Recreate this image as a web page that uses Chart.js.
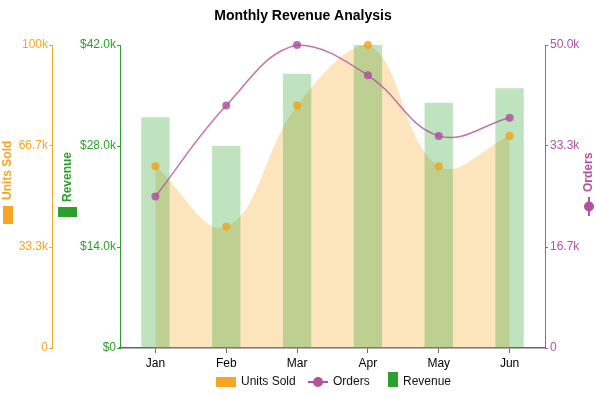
<!DOCTYPE html>
<html>
<head>
<meta charset="utf-8">
<title>Monthly Revenue Analysis</title>
<script src="https://cdn.jsdelivr.net/npm/chart.js@4.4.1/dist/chart.umd.min.js"></script>
<style>
  html, body { margin: 0; padding: 0; background: #fff; }
  #wrap { width: 596px; height: 398px; }
</style>
</head>
<body>
<div id="wrap"><canvas id="chart" width="596" height="398"></canvas></div>
<script>
const months = ["Jan", "Feb", "Mar", "Apr", "May", "Jun"];
const unitsSold = [60000, 40000, 80000, 100000, 60000, 70000];
const orders = [25000, 40000, 50000, 45000, 35000, 38000];
const revenue = [32000, 28000, 38000, 42000, 34000, 36000];

const unitsTicks = [0, 100000 / 3, 200000 / 3, 100000];
const revenueTicks = [0, 14000, 28000, 42000];
const ordersTicks = [0, 50000 / 3, 100000 / 3, 50000];

const ORANGE = "#f5a623";
const GREEN = "#2ca02c";
const PURPLE = "#b0529f";
const FONT = "'Liberation Sans', Arial, sans-serif";

const fmtUnits = (v) => (v === 0 ? "0" : v >= 100000 ? Math.round(v / 1000) + "k" : (v / 1000).toFixed(1) + "k");
const fmtRevenue = (v) => (v === 0 ? "$0" : "$" + (v / 1000).toFixed(1) + "k");
const fmtOrders = (v) => (v === 0 ? "0" : (v / 1000).toFixed(1) + "k");

function setTicks(list) {
  return (scale) => {
    scale.ticks = list.map((v) => ({ value: v }));
  };
}

// vertical axis title drawn bottom-to-top with a little legend marker first
function drawSideTitle(ctx, cx, bottomY, text, color, marker) {
  ctx.save();
  ctx.translate(cx, bottomY);
  ctx.rotate(-Math.PI / 2);
  ctx.fillStyle = color;
  ctx.strokeStyle = color;
  let start;
  if (marker === "wide") {
    ctx.fillRect(0, -5, 18, 10);
    start = 24;
  } else if (marker === "tall") {
    ctx.fillRect(0, -9.5, 10, 19);
    start = 15;
  } else {
    ctx.lineWidth = 2;
    ctx.beginPath();
    ctx.moveTo(0, 0);
    ctx.lineTo(19, 0);
    ctx.stroke();
    ctx.beginPath();
    ctx.arc(9.5, 0, 5, 0, Math.PI * 2);
    ctx.fill();
    start = 24;
  }
  ctx.font = "bold 12px " + FONT;
  ctx.textBaseline = "middle";
  ctx.textAlign = "left";
  ctx.fillText(text, start, 0);
  ctx.restore();
}

const overlay = {
  id: "overlay",
  afterDraw(chart) {
    const ctx = chart.ctx;
    ctx.save();

    // title
    ctx.fillStyle = "#000";
    ctx.font = "bold 14px " + FONT;
    ctx.textAlign = "center";
    ctx.textBaseline = "middle";
    ctx.fillText("Monthly Revenue Analysis", 303, 16);

    // axis titles
    drawSideTitle(ctx, 8, 224, "Units Sold", ORANGE, "wide");
    drawSideTitle(ctx, 67.5, 217, "Revenue", GREEN, "tall");
    drawSideTitle(ctx, 589, 216, "Orders", PURPLE, "line");

    // legend
    ctx.font = "12px " + FONT;
    ctx.textAlign = "left";
    ctx.textBaseline = "middle";
    ctx.fillStyle = ORANGE;
    ctx.fillRect(216, 377, 20, 10);
    ctx.fillStyle = "#111";
    ctx.fillText("Units Sold", 241, 382);

    ctx.strokeStyle = PURPLE;
    ctx.fillStyle = PURPLE;
    ctx.lineWidth = 2;
    ctx.beginPath();
    ctx.moveTo(308, 382);
    ctx.lineTo(328, 382);
    ctx.stroke();
    ctx.beginPath();
    ctx.arc(318, 382, 5, 0, Math.PI * 2);
    ctx.fill();
    ctx.fillStyle = "#111";
    ctx.fillText("Orders", 333, 382);

    ctx.fillStyle = GREEN;
    ctx.fillRect(388, 372, 10, 15);
    ctx.fillStyle = "#111";
    ctx.fillText("Revenue", 403, 382);

    ctx.restore();
  },
};

new Chart(document.getElementById("chart"), {
  type: "bar",
  data: {
    labels: months,
    datasets: [
      {
        type: "line",
        label: "Units Sold",
        data: unitsSold,
        yAxisID: "yUnits",
        order: 1,
        fill: "origin",
        backgroundColor: "rgba(245,166,35,0.3)",
        borderColor: "transparent",
        borderWidth: 0,
        tension: 0.4,
        pointRadius: 4,
        pointBackgroundColor: "rgba(240,166,30,0.85)",
        pointBorderWidth: 0,
        clip: false,
      },
      {
        type: "line",
        label: "Orders",
        data: orders,
        yAxisID: "yOrders",
        order: 0,
        fill: false,
        borderColor: "rgba(176,82,159,0.8)",
        borderWidth: 1.5,
        tension: 0.4,
        pointRadius: 4,
        pointBackgroundColor: "rgba(176,82,159,0.85)",
        pointBorderWidth: 0,
        clip: false,
      },
      {
        type: "bar",
        label: "Revenue",
        data: revenue,
        yAxisID: "yRevenue",
        order: 2,
        backgroundColor: "rgba(44,160,44,0.3)",
        borderWidth: 0,
        barPercentage: 0.4,
        categoryPercentage: 1,
      },
    ],
  },
  options: {
    responsive: false,
    animation: false,
    devicePixelRatio: 1,
    layout: { padding: { top: 45, bottom: 28, left: 0, right: 0 } },
    plugins: {
      legend: { display: false },
      title: { display: false },
      tooltip: { enabled: false },
      filler: { drawTime: "beforeDatasetsDraw" },
    },
    scales: {
      x: {
        offset: true,
        grid: { offset: false, drawOnChartArea: false, tickLength: 5, color: "#666" },
        border: { color: "#666", width: 1.5 },
        ticks: { color: "#000", font: { size: 12, family: FONT }, padding: 3 },
        afterFit: (s) => { s.height = 22; },
      },
      yUnits: {
        position: "left",
        weight: 2,
        min: 0,
        max: 100000,
        afterBuildTicks: setTicks(unitsTicks),
        grid: { drawOnChartArea: false, tickLength: 3, color: ORANGE },
        border: { color: ORANGE, width: 1 },
        ticks: { color: ORANGE, font: { size: 12, family: FONT }, padding: 1, callback: fmtUnits },
        afterFit: (s) => { s.width = 52; },
      },
      yRevenue: {
        position: "left",
        weight: 1,
        min: 0,
        max: 42000,
        afterBuildTicks: setTicks(revenueTicks),
        grid: { drawOnChartArea: false, tickLength: 3, color: GREEN },
        border: { color: GREEN, width: 1 },
        ticks: { color: GREEN, font: { size: 12, family: FONT }, padding: 1, callback: fmtRevenue },
        afterFit: (s) => { s.width = 68; },
      },
      yOrders: {
        position: "right",
        min: 0,
        max: 50000,
        afterBuildTicks: setTicks(ordersTicks),
        grid: { drawOnChartArea: false, tickLength: 3, color: PURPLE },
        border: { color: PURPLE, width: 1 },
        ticks: { color: PURPLE, font: { size: 12, family: FONT }, padding: 2, callback: fmtOrders },
        afterFit: (s) => { s.width = 51; },
      },
    },
  },
  plugins: [overlay],
});
</script>
</body>
</html>
